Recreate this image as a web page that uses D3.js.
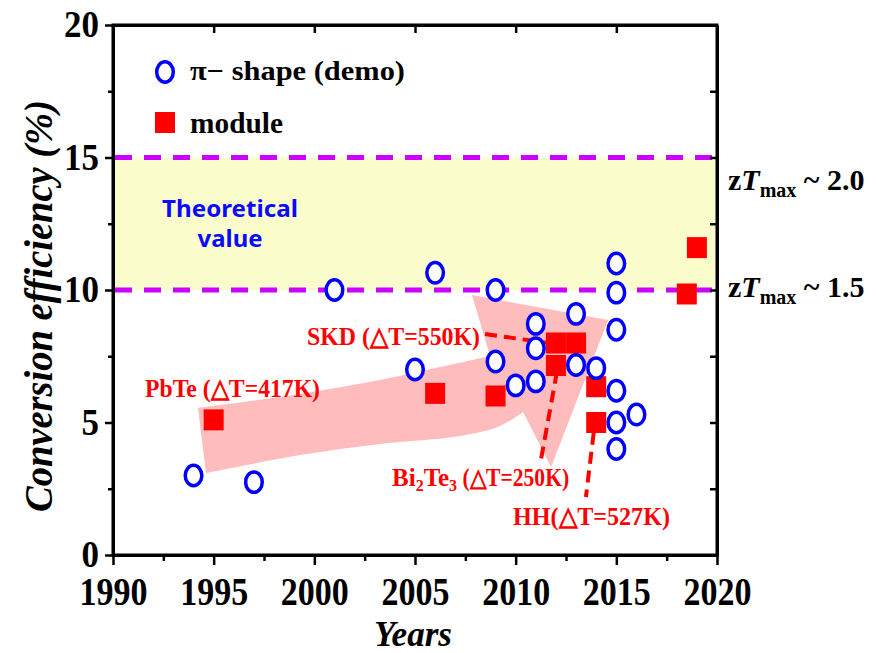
<!DOCTYPE html>
<html><head><meta charset="utf-8">
<script src="https://cdn.jsdelivr.net/npm/d3@7"></script>
<style>body{margin:0;background:#fff;} svg{display:block;}</style>
</head><body><svg id="chart" width="877" height="653"></svg>
<script>
// ---- data ----
const xTicks = [1990, 1995, 2000, 2005, 2010, 2015, 2020];
const xMinor = [1992.5, 1997.5, 2002.5, 2007.5, 2012.5, 2017.5];
const yTicks = [0, 5, 10, 15, 20];
const yMinor = [2.5, 7.5, 12.5, 17.5];
const demoYears = [1994, 1997, 2001, 2005, 2006, 2009, 2009, 2010, 2011, 2011, 2011, 2013, 2013, 2014, 2015, 2015, 2015, 2015, 2015, 2015, 2016];
const demoEff   = [3.0, 2.75, 10.0, 7.0, 10.65, 10.0, 7.3, 6.4, 8.72, 7.8, 6.55, 9.1, 7.17, 7.05, 11.0, 9.9, 8.5, 6.2, 5.0, 4.0, 5.3];
const moduleYears = [1995, 2006, 2009, 2012, 2012, 2013, 2014, 2014, 2018.5, 2019];
const moduleEff   = [5.1, 6.1, 6.0, 8.0, 7.15, 8.0, 6.35, 5.0, 9.85, 11.6];
const bandRange = [10, 15];            // theoretical value band (zT 1.5 .. 2.0)
const bandLabels = ["2.0", "1.5"];
// trend arrow outline (years, %)
const arrowTop = [[1994.22, 5.55], [1999.29, 6.08], [2003.26, 6.60], [2006.24, 7.09], [2008.73, 7.51]];
const arrowHead = [[2007.83, 9.81], [2014.59, 8.87], [2011.76, 3.32], [2010.37, 5.40]];
const arrowBottom = [[2010.37, 5.40], [2009.22, 4.87], [2007.24, 4.49], [2003.26, 4.19], [1999.29, 3.77], [1994.62, 3.09]];
// annotations: label, leader line (from, to)
const annoLabels = ["PbTe (\u25B3T=417K)", "SKD (\u25B3T=550K)", "Bi2Te3", "HH(\u25B3T=527K)"];
const leaders = [
  [[2008.48, 8.34], [2011.61, 8.0]],
  [[2012.05, 6.91], [2011.21, 3.40]],
  [[2013.99, 5.32], [2013.49, 2.19]]
];

// ---- layout ----
const svg = d3.select("#chart");
const L = 113, R = 717, T = 25, B = 555;
const x = d3.scaleLinear().domain([1990, 2020]).range([L, R]);
const y = d3.scaleLinear().domain([0, 20]).range([B, T]);
const serif = "'Liberation Serif','Times New Roman',serif";

// yellow band
svg.append("rect").attr("x", L).attr("width", R - L)
  .attr("y", y(bandRange[1])).attr("height", y(bandRange[0]) - y(bandRange[1]))
  .attr("fill", "#fafccb");

// dashed magenta lines
svg.selectAll("line.band").data(bandRange).join("line").attr("class", "band")
  .attr("x1", L + 2).attr("x2", R - 2).attr("y1", d => y(d)).attr("y2", d => y(d))
  .attr("stroke", "#cc00ff").attr("stroke-width", 5).attr("stroke-dasharray", "17,12");

// pink trend arrow
const lc = d3.line().x(d => x(d[0])).y(d => y(d[1])).curve(d3.curveCatmullRom);
const ll = d3.line().x(d => x(d[0])).y(d => y(d[1]));
const pathStr = lc(arrowTop) + ll(arrowHead).replace(/^M/, "L") + lc(arrowBottom).replace(/^M/, "L") + "Z";
svg.append("path").attr("d", pathStr).attr("fill", "#ffbcbc");

// axes
function styleAxis(g) {
  g.select(".domain").attr("stroke", "#000").attr("stroke-width", 3);
  g.selectAll(".tick line").attr("stroke", "#000").attr("stroke-width", 2.5);
}
const gx = svg.append("g").attr("transform", `translate(0,${B})`)
  .call(d3.axisBottom(x).tickValues(xTicks).tickFormat(d3.format("d")).tickSize(10).tickSizeOuter(0).tickPadding(12));
styleAxis(gx);
gx.selectAll("text").attr("font-family", serif).attr("font-weight", "bold").attr("font-size", 39)
  .attr("fill", "#000").attr("textLength", 68).attr("lengthAdjust", "spacingAndGlyphs");
const gxm = svg.append("g").attr("transform", `translate(0,${B})`)
  .call(d3.axisBottom(x).tickValues(xMinor).tickFormat("").tickSize(6).tickSizeOuter(0));
styleAxis(gxm); gxm.select(".domain").remove();

const gy = svg.append("g").attr("transform", `translate(${L},0)`)
  .call(d3.axisLeft(y).tickValues(yTicks).tickSize(8).tickSizeOuter(0).tickPadding(6));
styleAxis(gy);
gy.selectAll("text").attr("font-family", serif).attr("font-weight", "bold").attr("font-size", 37)
  .attr("fill", "#000").attr("textLength", d => String(d).length * 17.5).attr("lengthAdjust", "spacingAndGlyphs");
const gym = svg.append("g").attr("transform", `translate(${L},0)`)
  .call(d3.axisLeft(y).tickValues(yMinor).tickFormat("").tickSize(5).tickSizeOuter(0));
styleAxis(gym); gym.select(".domain").remove();

const gt = svg.append("g").attr("transform", `translate(0,${T})`)
  .call(d3.axisTop(x).tickValues(xTicks.slice(1, -1)).tickFormat("").tickSizeInner(-8).tickSizeOuter(0));
styleAxis(gt);
const gr = svg.append("g").attr("transform", `translate(${R},0)`)
  .call(d3.axisRight(y).tickValues(yTicks.slice(1, -1).concat(yMinor)).tickFormat("").tickSizeInner(-7).tickSizeOuter(0));
styleAxis(gr);
// frame
svg.append("rect").attr("x", L).attr("y", T).attr("width", R - L).attr("height", B - T)
  .attr("fill", "none").attr("stroke", "#000").attr("stroke-width", 3);

// axis titles
svg.append("text").attr("transform", `translate(52,306) rotate(-90)`).attr("text-anchor", "middle")
  .attr("font-family", serif).attr("font-style", "italic").attr("font-weight", "bold").attr("font-size", 41)
  .attr("textLength", 412).attr("lengthAdjust", "spacingAndGlyphs").text("Conversion efficiency (%)");
svg.append("text").attr("x", 413).attr("y", 646).attr("text-anchor", "middle")
  .attr("font-family", serif).attr("font-style", "italic").attr("font-weight", "bold").attr("font-size", 36)
  .attr("textLength", 78).attr("lengthAdjust", "spacingAndGlyphs").text("Years");

// leader lines
svg.selectAll("line.lead").data(leaders).join("line").attr("class", "lead")
  .attr("x1", d => x(d[0][0])).attr("y1", d => y(d[0][1]))
  .attr("x2", d => x(d[1][0])).attr("y2", d => y(d[1][1]))
  .attr("stroke", "#ff0000").attr("stroke-width", 4).attr("stroke-dasharray", "12,7");

// module squares
const sqW = 20, sqH = 21;
svg.selectAll("rect.mod").data(moduleYears).join("rect").attr("class", "mod")
  .attr("x", d => x(d) - sqW / 2).attr("y", (d, i) => y(moduleEff[i]) - sqH / 2)
  .attr("width", sqW).attr("height", sqH).attr("fill", "#ff0000");

// demo circles
svg.selectAll("ellipse.demo").data(demoYears).join("ellipse").attr("class", "demo")
  .attr("cx", d => x(d)).attr("cy", (d, i) => y(demoEff[i]))
  .attr("rx", 8.3).attr("ry", 10.2).attr("fill", "#fff").attr("stroke", "#0000ff").attr("stroke-width", 3.5);

// legend
svg.append("ellipse").attr("cx", 165).attr("cy", 72).attr("rx", 8.3).attr("ry", 10.2)
  .attr("fill", "#fff").attr("stroke", "#0000ff").attr("stroke-width", 3.5);
svg.append("text").attr("x", 190).attr("y", 80).attr("font-family", serif).attr("font-weight", "bold")
  .attr("font-size", 28).attr("textLength", 215).attr("lengthAdjust", "spacingAndGlyphs").text("\u03C0\u2212 shape (demo)");
svg.append("rect").attr("x", 155).attr("y", 112).attr("width", 20).attr("height", 21).attr("fill", "#ff0000");
svg.append("text").attr("x", 190).attr("y", 133).attr("font-family", serif).attr("font-weight", "bold")
  .attr("font-size", 29).attr("textLength", 93).attr("lengthAdjust", "spacingAndGlyphs").text("module");

// theoretical value
const sans = "'Noto Sans','Open Sans',sans-serif";
svg.append("text").attr("x", 230).attr("y", 217).attr("text-anchor", "middle").attr("font-family", sans)
  .attr("font-weight", "bold").attr("font-size", 24).attr("fill", "#0a0aff")
  .attr("textLength", 136).attr("lengthAdjust", "spacingAndGlyphs").text("Theoretical");
svg.append("text").attr("x", 230).attr("y", 247).attr("text-anchor", "middle").attr("font-family", sans)
  .attr("font-weight", "bold").attr("font-size", 24).attr("fill", "#0a0aff")
  .attr("textLength", 65).attr("lengthAdjust", "spacingAndGlyphs").text("value");

// right zT labels
[[bandLabels[0], 190], [bandLabels[1], 297]].forEach(([lab, by]) => {
  const t = svg.append("text").attr("x", 728).attr("y", by).attr("font-family", serif)
    .attr("font-weight", "bold").attr("font-size", 30).attr("fill", "#000");
  t.append("tspan").text("z");
  t.append("tspan").attr("font-style", "italic").text("T");
  t.append("tspan").attr("font-size", 20).attr("dy", 7).text("max");
  t.append("tspan").attr("dy", -7).text(" ~ " + lab);
});

// red annotations
function redText(xx, yy, len, str) {
  return svg.append("text").attr("x", xx).attr("y", yy).attr("font-family", serif)
    .attr("font-weight", "bold").attr("font-size", 26).attr("fill", "#ff0000")
    .attr("textLength", len).attr("lengthAdjust", "spacingAndGlyphs").text(str);
}
redText(145, 397, 175, annoLabels[0]);
redText(307, 345, 173, annoLabels[1]);
redText(513, 525, 157, annoLabels[3]);
const bt = svg.append("text").attr("x", 392).attr("y", 486).attr("font-family", serif)
  .attr("font-weight", "bold").attr("font-size", 25).attr("fill", "#ff0000");
bt.append("tspan").text("Bi");
bt.append("tspan").attr("font-size", 16).attr("dy", 5).text("2");
bt.append("tspan").attr("dy", -5).text("Te");
bt.append("tspan").attr("font-size", 16).attr("dy", 5).text("3");
bt.append("tspan").attr("dy", -5).attr("textLength", 112).attr("lengthAdjust", "spacingAndGlyphs").text(" (\u25B3T=250K)");
</script></body></html>
